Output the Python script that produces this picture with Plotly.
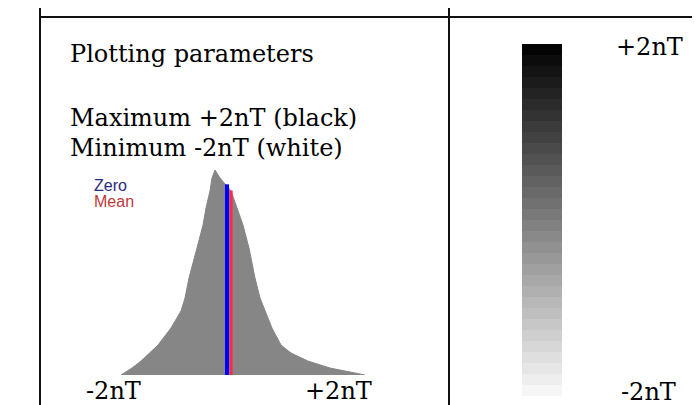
import numpy as np
import plotly.graph_objects as go

W, H = 700, 405

# Histogram of values (nT) and relative counts (% of peak)
hist_x = [-1.525, -1.367, -1.237, -1.108, -0.993, -0.806, -0.662, -0.604,
          -0.547, -0.432, -0.345, -0.302, -0.245, -0.216, -0.173,
          -0.101, 0.058, 0.144, 0.230, 0.317, 0.403, 0.475, 0.547,
          0.647, 0.777, 0.921, 1.165, 1.482, 1.986]
hist_y = [0, 3.4, 6.8, 10.7, 14.6, 22.9, 31.2, 37.6,
          47.3, 61.9, 73.2, 81.5, 89.8, 96.1, 100,
          96.1, 89.8, 81.5, 73.2, 61.9, 47.3, 37.6, 31.2,
          22.9, 14.6, 10.7, 6.8, 3.4, 0]
zero_value = 0.0
mean_value = 0.06
zero_height = 93
mean_height = 90

# Plotting range of the grey scale (nT)
scale_min, scale_max = -2.0, 2.0
n_steps = 32
scale_edges = list(np.linspace(scale_min, scale_max, n_steps + 1))
scale_mid = [(a + b) / 2 for a, b in zip(scale_edges[:-1], scale_edges[1:])]

def px_x(p):
    return p / W

def px_y(p):
    return 1 - p / H

fig = go.Figure()

fig.add_trace(go.Scatter(
    x=hist_x, y=hist_y, mode="lines", fill="tozeroy",
    fillcolor="#868686", line=dict(color="#868686", width=1),
    xaxis="x", yaxis="y", hoverinfo="skip", showlegend=False))
fig.add_trace(go.Scatter(
    x=[zero_value, zero_value], y=[0, zero_height], mode="lines",
    line=dict(color="#0000ff", width=4), xaxis="x", yaxis="y",
    hoverinfo="skip", showlegend=False))
fig.add_trace(go.Scatter(
    x=[mean_value, mean_value], y=[0, mean_height], mode="lines",
    line=dict(color="#ff2a4a", width=3), xaxis="x", yaxis="y",
    hoverinfo="skip", showlegend=False))

fig.add_trace(go.Heatmap(
    x=[0, 1], y=scale_edges, z=[[v] for v in scale_mid],
    zmin=scale_min, zmax=scale_max,
    colorscale=[[0, "rgb(250,250,250)"], [1, "rgb(0,0,0)"]],
    showscale=False, xaxis="x2", yaxis="y2", hoverinfo="skip"))

hidden = dict(visible=False, showgrid=False, zeroline=False, fixedrange=True)
fig.update_layout(
    width=W, height=H, margin=dict(l=0, r=0, t=0, b=0),
    paper_bgcolor="white", plot_bgcolor="rgba(0,0,0,0)",
    xaxis=dict(domain=[px_x(80), px_x(358)], range=[scale_min, scale_max], **hidden),
    yaxis=dict(domain=[px_y(367), px_y(162)], range=[0, 100], **hidden),
    xaxis2=dict(domain=[px_x(514), px_x(554)], range=[0, 1], **hidden),
    yaxis2=dict(domain=[px_y(388), px_y(36)], range=[scale_min, scale_max], **hidden),
)

# table borders
line = dict(color="#111111", width=2)
fig.add_shape(type="line", xref="paper", yref="paper", x0=px_x(32), x1=1, y0=px_y(9), y1=px_y(9), line=line)
fig.add_shape(type="line", xref="paper", yref="paper", x0=px_x(32), x1=px_x(32), y0=0, y1=1, line=line)
fig.add_shape(type="line", xref="paper", yref="paper", x0=px_x(441), x1=px_x(441), y0=0, y1=1, line=line)

serif = dict(family="DejaVu Serif", size=24, color="#000000")
def label(text, x, y, font=serif):
    fig.add_annotation(text=text, x=px_x(x), y=px_y(y), xref="paper", yref="paper",
                       xanchor="left", yanchor="middle", showarrow=False, font=font)

label("Plotting parameters", 60, 46)
label("Maximum +2nT (black)", 60, 110)
label("Minimum -2nT (white)", 60, 140)
label("-2nT", 76, 383)
label("+2nT", 295, 383)
label("+2nT", 606, 39)
label("-2nT", 611, 384)
label("Zero", 84, 177, dict(family="Liberation Sans", size=16, color="#2a2a80"))
label("Mean", 84, 194, dict(family="Liberation Sans", size=16, color="#c03a3a"))

fig.write_html("out.html", config=dict(displayModeBar=False))
